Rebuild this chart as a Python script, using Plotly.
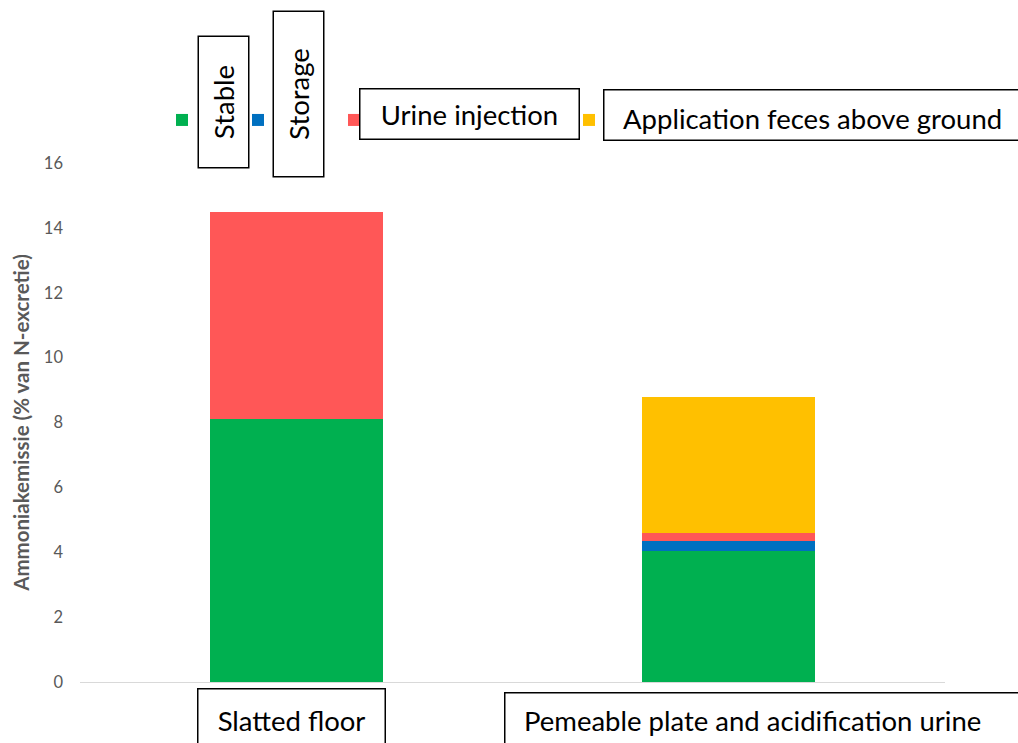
import plotly.graph_objects as go

categories = ["Slatted floor", "Pemeable plate and acidification urine"]
series_names = ["Stal", "Opslag", "Uitrijden urine (injectie)", "Uitrijden feces (bovengronds)"]
stal = [8.1, 4.05]
opslag = [0.0, 0.3]
urine = [6.4, 0.25]
feces = [0.0, 4.2]
colors = ["#00B050", "#0070C0", "#FF5757", "#FFC000"]
y_ticks = [0, 2, 4, 6, 8, 10, 12, 14, 16]

W, H = 1018, 743
L, R, T, B = 80, 945, 163, 682

def fx(px):
    return (px - L) / (R - L)

def fy(py):
    return (B - py) / (B - T)

fig = go.Figure()
values = [stal, opslag, urine, feces]
legend_ids = ["legend", "legend2", "legend3", "legend4"]
for name, vals, col, lg in zip(series_names, values, colors, legend_ids):
    fig.add_trace(go.Bar(x=categories, y=vals, name=name, marker_color=col,
                         marker_line_width=0, width=0.4, legend=lg))

font_fam = "Lato, 'Open Sans', sans-serif"
legend_sq_px = [183, 259, 355, 590]
leg_common = dict(orientation="h", xanchor="left", yanchor="middle",
                  bgcolor="rgba(0,0,0,0)", borderwidth=0,
                  font=dict(family=font_fam, size=13, color="#595959"))
layout_leg = {}
for lg, sx in zip(legend_ids, legend_sq_px):
    layout_leg[lg] = dict(x=fx(sx - 21), y=fy(120), **leg_common)

fig.update_layout(
    width=W, height=H,
    margin=dict(l=L, r=W - R, t=T, b=H - B, autoexpand=False),
    paper_bgcolor="white", plot_bgcolor="white",
    barmode="stack", bargap=0.6,
    showlegend=True,
    font=dict(family=font_fam, color="#595959"),
    **layout_leg,
)
fig.update_yaxes(range=[0, 16], tickvals=y_ticks, showgrid=False, zeroline=False,
                 showline=False, ticks="", ticklabelstandoff=16,
                 tickfont=dict(family=font_fam, size=16.5, color="#595959"),
                 title=dict(text="<b>Ammoniakemissie (% van N-excretie)</b>",
                            font=dict(family=font_fam, size=20.5, color="#595959"),
                            standoff=8))
fig.update_xaxes(showline=True, linecolor="#D9D9D9", linewidth=1, showgrid=False,
                 ticks="", showticklabels=False)

box_font = dict(family=font_fam, size=27.5, color="black")
bw = 1.5

def centered_box(text, x0, x1, y0, y1, angle=0):
    w, h = x1 - x0, y1 - y0
    if angle:
        w, h = h, w
    fig.add_annotation(text=text, xref="paper", yref="paper",
                       x=fx((x0 + x1) / 2), y=fy((y0 + y1) / 2),
                       xanchor="center", yanchor="middle", showarrow=False,
                       textangle=angle, width=w - 2 * bw, height=h - 2 * bw,
                       borderpad=0, borderwidth=bw, bordercolor="black",
                       bgcolor="white", font=box_font, align="center")

def left_box(text, x0, x1, y0, y1, tx, ty):
    fig.add_annotation(text="\u00a0", xref="paper", yref="paper",
                       x=fx((x0 + x1) / 2), y=fy((y0 + y1) / 2),
                       xanchor="center", yanchor="middle", showarrow=False,
                       width=x1 - x0 - 2 * bw, height=y1 - y0 - 2 * bw,
                       borderpad=0, borderwidth=bw, bordercolor="black",
                       bgcolor="white", font=box_font)
    fig.add_annotation(text=text, xref="paper", yref="paper",
                       x=fx(tx), y=fy(ty), xanchor="left", yanchor="middle",
                       showarrow=False, borderpad=0, borderwidth=0,
                       font=box_font)

centered_box("Stable", 198, 250, 36, 169, angle=-90)
centered_box("Storage", 272, 324, 11, 178, angle=-90)
centered_box("Urine injection", 359, 580, 88, 140)
left_box("Application feces above ground", 603, 1060, 89, 141, 623, 118)
centered_box("Slatted floor", 197, 386, 688, 752)
left_box("Pemeable plate and acidification urine", 504, 1060, 692, 770, 524, 720)

fig.write_html("out.html", config={"displayModeBar": False},
               post_script="document.body.style.margin='0';document.body.style.overflow='hidden';")
